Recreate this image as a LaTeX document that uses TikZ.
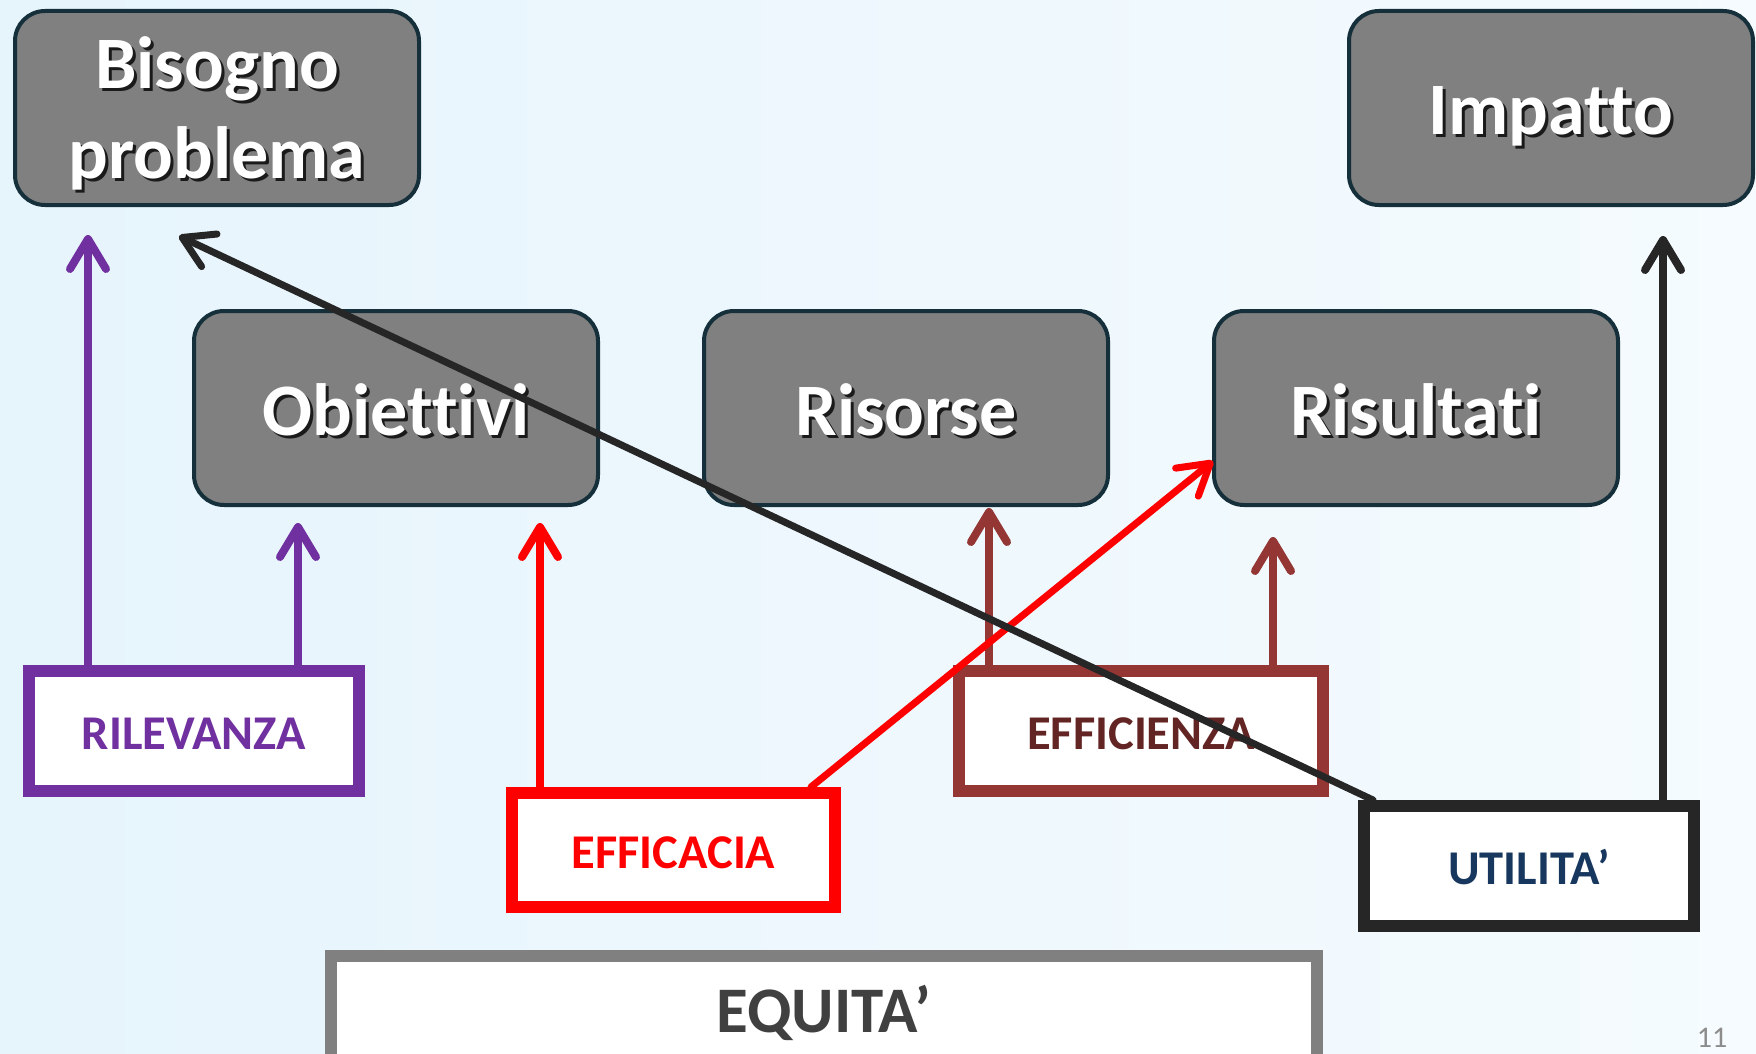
\documentclass[tikz,border=0pt]{standalone}
\usepackage{fontspec}
\setmainfont{Carlito}[Ligatures={NoCommon,NoRequired,NoContextual}]
\usetikzlibrary{arrows.meta,calc}
\definecolor{bgL}{HTML}{E6F4FC}
\definecolor{bgR}{HTML}{F5FBFE}
\definecolor{boxgray}{HTML}{808080}
\definecolor{boxedge}{HTML}{15303A}
\definecolor{purp}{HTML}{7030A0}
\definecolor{redc}{HTML}{FF0000}
\definecolor{brownc}{HTML}{943634}
\definecolor{browntxt}{HTML}{632523}
\definecolor{blackc}{HTML}{262626}
\definecolor{navy}{HTML}{17375E}
\definecolor{eqgray}{HTML}{808080}
\definecolor{eqtxt}{HTML}{404040}
\definecolor{pagenum}{HTML}{8C8C8C}
\definecolor{shadowc}{HTML}{1A1A1A}
\newcommand\shadowtxt[1]{\leavevmode\rlap{\kern3pt\raisebox{-3pt}{\textcolor{shadowc}{#1}}}#1}
\begin{document}
\begin{tikzpicture}[x=1pt,y=-1pt,
 graybox/.style={draw=boxedge, line width=4pt, fill=boxgray, rounded corners=30pt,
   minimum width=404pt, minimum height=194pt, text=white,
   font=\fontsize{74}{90}\selectfont\bfseries, align=center, inner sep=0pt},
 oneline/.style={text height=54pt, text depth=0pt},
 labelbox/.style={fill=white, line width=12pt, font=\fontsize{48.5}{56}\selectfont\bfseries,
   inner sep=0pt, text height=37pt, text depth=0pt},
 arr/.style={line width=8pt, line cap=round, -{Straight Barb[length=30pt,width=36pt,round]}},
]
\shade[left color=bgL, right color=bgR] (0,0) rectangle (1756,1054);
\useasboundingbox (0,0) rectangle (1756,1054);

\node[graybox, text depth=-3pt] (bis) at (217,108) {\shadowtxt{Bisogno}\\\shadowtxt{problema}};
\node[graybox, oneline] (imp) at (1551,108) {\shadowtxt{Impatto}};
\node[graybox, oneline] (obi) at (396,408) {\shadowtxt{Obiettivi}};
\node[graybox, oneline] (ris) at (906,408) {\shadowtxt{Risorse}};
\node[graybox, oneline] (rsl) at (1416,408) {\shadowtxt{Risultati}};

\node[labelbox, draw=purp, text=purp, minimum width=330pt, minimum height=120pt] (ril) at (194,731) {RILEVANZA};
\node[labelbox, draw=redc, text=redc, minimum width=323pt, minimum height=114pt] (effa) at (673.5,850) {EFFICACIA};
\node[labelbox, draw=brownc, text=browntxt, minimum width=364pt, minimum height=120pt] (effi) at (1141,731) {EFFICIENZA};
\node[labelbox, draw=blackc, text=navy, minimum width=330pt, minimum height=120pt] (uti) at (1529,866) {UTILITA’};
\node[labelbox, draw=eqgray, text=eqtxt, minimum width=986pt, minimum height=104pt,
  font=\fontsize{65}{72}\selectfont\bfseries, text height=48pt] (equ) at (824,1008) {EQUITA’};
\node[text=pagenum, font=\fontsize{30}{36}\selectfont, inner sep=0pt] (pg) at (1712,1038) {11};

\coordinate (t1) at (88,235);
\coordinate (t2) at (298,523);
\coordinate (t3) at (540,523);
\coordinate (t4) at (989,508);
\coordinate (t5) at (1273,537);
\coordinate (t6) at (1663,236);
\coordinate (t7) at (1213,461);
\coordinate (t8) at (179,236);

\draw[arr, purp] (ril.north -| t1) -- (t1);
\draw[arr, purp] (ril.north -| t2) -- (t2);
\draw[arr, redc] (effa.north -| t3) -- (t3);
\draw[arr, brownc] (effi.north -| t4) -- (t4);
\draw[arr, brownc] (effi.north -| t5) -- (t5);
\draw[arr, blackc] (uti.north -| t6) -- (t6);
\draw[arr, redc, line width=7pt] ($(effa.north east)+(-30,0)$) -- (t7);
\draw[arr, blackc, line width=7pt] ($(uti.north west)+(15,0)$) -- (t8);
\end{tikzpicture}
\end{document}
